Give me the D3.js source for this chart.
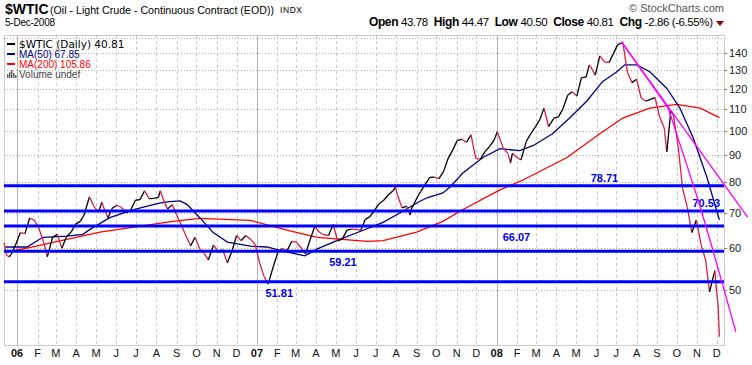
<!DOCTYPE html>
<html>
<head>
<meta charset="utf-8">
<script src="https://cdn.jsdelivr.net/npm/d3@7"></script>
<style>
body { margin: 0; background: #fff; }
svg { display: block; }
</style>
</head>
<body>
<div id="chart"></div>
<script>
var width = 752;
var height = 365;

// weekly-ish closes
var prices = [
  ["2005-12-12",61.4],["2005-12-16",58.1],["2005-12-20",57.8],["2005-12-23",58.4],["2005-12-30",61.0],
  ["2006-01-06",64.2],["2006-01-13",63.9],["2006-01-20",68.4],["2006-01-27",67.8],["2006-02-03",65.4],
  ["2006-02-10",61.8],["2006-02-16",57.8],["2006-02-24",62.9],["2006-03-03",63.7],["2006-03-10",60.0],
  ["2006-03-17",63.0],["2006-03-24",64.3],["2006-03-31",66.6],["2006-04-07",67.4],["2006-04-13",69.3],
  ["2006-04-21",75.0],["2006-04-28",71.9],["2006-05-05",70.2],["2006-05-10",73.3],["2006-05-12",72.0],
  ["2006-05-19",68.5],["2006-05-26",71.4],["2006-06-02",72.3],["2006-06-09",71.6],["2006-06-16",69.9],
  ["2006-06-23",70.9],["2006-06-30",73.9],["2006-07-07",74.1],["2006-07-14",77.0],["2006-07-21",74.4],
  ["2006-07-28",74.5],["2006-08-04",74.8],["2006-08-07",77.0],["2006-08-11",74.4],["2006-08-18",71.1],
  ["2006-08-25",72.5],["2006-09-01",69.2],["2006-09-08",66.3],["2006-09-15",63.3],["2006-09-22",60.6],
  ["2006-09-29",62.9],["2006-10-06",59.8],["2006-10-13",58.6],["2006-10-19",57.0],["2006-10-27",60.8],
  ["2006-11-03",59.1],["2006-11-10",59.6],["2006-11-17",56.3],["2006-11-24",59.2],["2006-12-01",63.4],
  ["2006-12-08",62.0],["2006-12-15",63.4],["2006-12-22",62.4],["2006-12-29",61.1],
  ["2007-01-05",56.3],["2007-01-12",53.0],["2007-01-18",51.3],["2007-01-26",55.4],["2007-02-02",59.0],
  ["2007-02-09",59.9],["2007-02-16",59.4],["2007-02-23",61.8],["2007-03-02",61.6],["2007-03-09",60.1],
  ["2007-03-16",58.5],["2007-03-23",62.3],["2007-03-30",65.9],["2007-04-06",64.3],["2007-04-13",63.6],
  ["2007-04-20",63.4],["2007-04-27",66.5],["2007-05-04",61.9],["2007-05-11",62.4],["2007-05-18",64.9],
  ["2007-05-25",65.2],["2007-06-01",65.1],["2007-06-08",64.8],["2007-06-15",68.0],["2007-06-22",68.8],
  ["2007-06-29",70.7],["2007-07-06",72.8],["2007-07-13",73.9],["2007-07-20",75.6],["2007-07-27",77.0],
  ["2007-07-31",78.2],["2007-08-03",75.5],["2007-08-10",71.5],["2007-08-17",72.0],["2007-08-22",69.3],
  ["2007-08-24",71.1],["2007-08-31",74.0],["2007-09-07",76.7],["2007-09-14",79.1],["2007-09-21",81.6],
  ["2007-09-28",81.7],["2007-10-05",81.2],["2007-10-12",83.7],["2007-10-19",88.6],["2007-10-26",91.9],
  ["2007-11-02",95.9],["2007-11-09",96.3],["2007-11-16",95.1],["2007-11-23",98.2],["2007-11-30",88.7],
  ["2007-12-07",88.3],["2007-12-14",91.3],["2007-12-21",93.3],["2007-12-28",96.0],
  ["2008-01-02",99.6],["2008-01-04",97.9],["2008-01-11",92.7],["2008-01-18",90.6],["2008-01-22",87.0],
  ["2008-01-25",90.7],["2008-02-01",89.0],["2008-02-07",88.1],["2008-02-15",95.5],["2008-02-22",98.8],
  ["2008-02-29",101.8],["2008-03-07",105.2],["2008-03-13",110.3],["2008-03-20",101.8],["2008-03-28",105.6],
  ["2008-04-04",106.2],["2008-04-11",110.1],["2008-04-18",116.7],["2008-04-25",118.5],["2008-05-02",116.3],
  ["2008-05-09",126.0],["2008-05-16",126.3],["2008-05-21",133.2],["2008-05-23",132.2],["2008-05-30",127.4],
  ["2008-06-06",138.5],["2008-06-13",134.9],["2008-06-20",134.6],["2008-06-27",140.2],["2008-07-03",145.3],
  ["2008-07-11",147.0],["2008-07-18",128.9],["2008-07-25",123.3],["2008-08-01",125.1],["2008-08-08",115.2],
  ["2008-08-15",113.8],["2008-08-22",114.6],["2008-08-29",115.5],["2008-09-05",106.2],["2008-09-12",101.2],
  ["2008-09-16",91.2],["2008-09-22",109.0],["2008-09-26",106.9],["2008-10-03",93.9],["2008-10-10",77.7],
  ["2008-10-17",71.9],["2008-10-24",64.2],["2008-10-31",67.8],["2008-11-07",61.0],["2008-11-14",57.0],
  ["2008-11-20",49.6],["2008-11-28",54.4],["2008-12-01",49.3],["2008-12-03",46.8],["2008-12-04",43.7],
  ["2008-12-05",40.8]
];

var ma50 = [
  ["2005-12-14",60.3],["2006-01-16",60.3],["2006-02-09",62.9],["2006-03-18",63.2],["2006-04-11",63.7],
  ["2006-04-22",65.1],["2006-05-22",68.5],["2006-06-26",70.9],["2006-08-02",72.8],["2006-08-17",73.4],
  ["2006-09-06",73.7],["2006-09-17",72.5],["2006-10-06",68.5],["2006-10-26",64.3],["2006-11-17",61.6],
  ["2006-12-22",60.5],["2007-01-16",60.3],["2007-02-10",59.2],["2007-03-15",58.0],["2007-04-02",59.75],
  ["2007-05-08",62.4],["2007-06-07",64.5],["2007-07-12",67.1],["2007-08-07",70.0],["2007-09-02",73.1],
  ["2007-09-17",74.7],["2007-10-11",76.3],["2007-10-22",78.3],["2007-11-10",83.1],["2007-12-11",89.0],
  ["2008-01-06",92.5],["2008-02-05",91.7],["2008-02-25",93.7],["2008-03-26",98.7],["2008-04-21",105.7],
  ["2008-05-17",113.7],["2008-06-10",123.8],["2008-07-02",129.3],["2008-07-14",133.2],["2008-08-01",133.2],
  ["2008-08-21",129.3],["2008-09-16",120.2],["2008-10-06",110.3],["2008-10-26",97.0],["2008-11-16",81.7],
  ["2008-12-05",67.85]
];

var ma200 = [
  ["2005-12-14",59.0],["2006-01-16",60.0],["2006-05-07",64.3],["2006-08-26",67.4],["2006-10-06",68.3],
  ["2006-12-22",67.7],["2007-02-25",64.5],["2007-04-03",62.9],["2007-06-18",61.8],["2007-07-12",62.0],
  ["2007-09-01",64.3],["2007-10-11",67.4],["2007-11-10",70.9],["2008-01-06",77.3],["2008-02-10",80.7],
  ["2008-04-17",89.0],["2008-06-06",98.7],["2008-07-11",105.7],["2008-08-21",110.3],["2008-10-01",112.2],
  ["2008-11-06",110.3],["2008-12-05",105.86]
];

var levels = [78.71, 70.53, 66.07, 59.21, 51.81];
var levelLabelDates = ["2008-06-13", "2008-11-15", "2008-01-31", "2007-05-12", "2007-02-04"];
var levelLabelAbove = [true, true, false, false, false];

var trendLines = [
  [["2008-07-09",147.2],["2009-01-17",68.7]],
  [["2008-07-09",147.2],["2008-09-18",110.4]],
  [["2008-09-18",110.4],["2008-10-09",91.9],["2008-11-05",72.4],["2008-11-25",59.5],["2008-12-13",49.6],["2008-12-30",41.7]]
];

var priceTicks = [50, 60, 70, 80, 90, 100, 110, 120, 130, 140];
var monthLetters = ["J","F","M","A","M","J","J","A","S","O","N","D"];
var quote = [["Open","43.78"],["High","44.47"],["Low","40.50"],["Close","40.81"],["Chg","-2.86 (-6.55%)"]];
var legendItems = [["$WTIC (Daily) 40.81","#000000"],["MA(50) 67.85","#000080"],["MA(200) 105.86","#ff0000"],["Volume undef","#444444"]];

var parse = d3.timeParse("%Y-%m-%d");
var plotLeft = 4, plotRight = 724, plotTop = 35, plotBottom = 345;

var svg = d3.select("#chart")
  .append("svg")
  .attr("width", width)
  .attr("height", height)
  .style("font-family", "Arial, 'Liberation Sans', sans-serif");

var x = d3.scaleTime()
  .domain([parse("2005-12-12"), parse("2008-12-12")])
  .range([plotLeft, plotRight]);

var y = d3.scaleLog()
  .domain([39.36, 151.7])
  .range([plotBottom, plotTop]);

// grid
var months = d3.timeMonth.range(parse("2006-01-01"), parse("2008-12-02"));

svg.append("g")
  .selectAll("line")
  .data(months)
  .enter()
  .append("line")
  .attr("x1", function(d){ return Math.round(x(d)) + 0.5; })
  .attr("x2", function(d){ return Math.round(x(d)) + 0.5; })
  .attr("y1", plotTop)
  .attr("y2", plotBottom)
  .attr("stroke", function(d){ return d.getMonth() == 0 ? "#b4b4b4" : "#c8c8c8"; })
  .attr("stroke-dasharray", function(d){ return d.getMonth() == 0 ? null : "3,3"; });

svg.append("g")
  .selectAll("line")
  .data(priceTicks.concat([150]))
  .enter()
  .append("line")
  .attr("x1", plotLeft)
  .attr("x2", plotRight)
  .attr("y1", function(d){ return Math.round(y(d)) + 0.5; })
  .attr("y2", function(d){ return Math.round(y(d)) + 0.5; })
  .attr("stroke", "#b0b0b0")
  .attr("stroke-dasharray", "1,2");

svg.append("rect")
  .attr("x", plotLeft + 0.5)
  .attr("y", plotTop + 0.5)
  .attr("width", plotRight - plotLeft)
  .attr("height", plotBottom - plotTop)
  .attr("fill", "none")
  .attr("stroke", "#999")
  .attr("stroke-dasharray", "1,1");

// right axis
var axis = svg.append("g");
axis.selectAll("line")
  .data(priceTicks)
  .enter()
  .append("line")
  .attr("x1", plotRight)
  .attr("x2", plotRight + 3)
  .attr("y1", function(d){ return Math.round(y(d)) + 0.5; })
  .attr("y2", function(d){ return Math.round(y(d)) + 0.5; })
  .attr("stroke", "#777");
axis.selectAll("text")
  .data(priceTicks)
  .enter()
  .append("text")
  .attr("x", 729)
  .attr("y", function(d){ return y(d) + 4; })
  .style("font-size", "11px")
  .attr("fill", "#222")
  .text(function(d){ return d; });

// month labels
svg.append("g")
  .selectAll("text")
  .data(months)
  .enter()
  .append("text")
  .attr("x", function(d){ return x(d); })
  .attr("y", 357)
  .attr("text-anchor", "middle")
  .style("font-size", "11px")
  .style("font-weight", function(d){ return d.getMonth() == 0 ? "bold" : "normal"; })
  .attr("fill", "#111")
  .text(function(d){ return d.getMonth() == 0 ? d3.timeFormat("%y")(d) : monthLetters[d.getMonth()]; });

// moving averages
var line = d3.line()
  .x(function(d){ return x(parse(d[0])); })
  .y(function(d){ return y(d[1]); });

svg.append("path")
  .attr("d", line(ma200))
  .attr("fill", "none")
  .attr("stroke", "#ff0000")
  .attr("stroke-width", 1.3);

svg.append("path")
  .attr("d", line(ma50))
  .attr("fill", "none")
  .attr("stroke", "#000080")
  .attr("stroke-width", 1.3);

// price, black when rising, red when falling
svg.append("g")
  .selectAll("line")
  .data(d3.pairs(prices))
  .enter()
  .append("line")
  .attr("x1", function(d){ return x(parse(d[0][0])); })
  .attr("y1", function(d){ return y(d[0][1]); })
  .attr("x2", function(d){ return x(parse(d[1][0])); })
  .attr("y2", function(d){ return y(d[1][1]); })
  .attr("stroke", function(d){ return d[1][1] >= d[0][1] ? "#000" : "#d81e48"; })
  .attr("stroke-width", 1.3);

// horizontal levels
svg.append("g")
  .selectAll("line")
  .data(levels)
  .enter()
  .append("line")
  .attr("x1", plotLeft)
  .attr("x2", plotRight)
  .attr("y1", function(d){ return y(d); })
  .attr("y2", function(d){ return y(d); })
  .attr("stroke", "#0000ff")
  .attr("stroke-width", 3);

svg.append("g")
  .selectAll("text")
  .data(levels)
  .enter()
  .append("text")
  .attr("x", function(d, i){ return x(parse(levelLabelDates[i])); })
  .attr("y", function(d, i){ return y(d) + (levelLabelAbove[i] ? -4 : 15); })
  .attr("text-anchor", "middle")
  .style("font-size", "11px")
  .style("font-weight", "bold")
  .attr("fill", "#0000ee")
  .text(function(d){ return d3.format(".2f")(d); });

// trend lines
svg.append("g")
  .selectAll("path")
  .data(trendLines)
  .enter()
  .append("path")
  .attr("d", line)
  .attr("fill", "none")
  .attr("stroke", "#ff00ff")
  .attr("stroke-width", 1.3);

// legend
var legend = svg.append("g");
legendItems.forEach(function(d, i){
  var cy = 44 + i * 10;
  if (i < 3) {
    legend.append("line")
      .attr("x1", 7).attr("x2", 15)
      .attr("y1", cy).attr("y2", cy)
      .attr("stroke", d[1])
      .attr("stroke-width", 2);
  } else {
    [[7,4],[9,6],[11,8],[13,5],[15,3]].forEach(function(b){
      legend.append("rect")
        .attr("x", b[0]).attr("y", cy + 4 - b[1])
        .attr("width", 1.5).attr("height", b[1])
        .attr("fill", "#666");
    });
  }
  legend.append("text")
    .attr("x", 19)
    .attr("y", cy + 3.5)
    .style("font-family", i == 0 ? "'DejaVu Sans', Verdana, sans-serif" : null)
    .style("font-size", i == 0 ? "10.5px" : "10px")
    .attr("fill", d[1])
    .text(d[0]);
});

// header
svg.append("text")
  .attr("x", 5)
  .attr("y", 14)
  .style("font-size", "14px")
  .style("font-weight", "bold")
  .text("$WTIC");

svg.append("text")
  .attr("x", 50)
  .attr("y", 14)
  .style("font-size", "11px")
  .attr("textLength", 224)
  .attr("lengthAdjust", "spacingAndGlyphs")
  .text("(Oil - Light Crude - Continuous Contract (EOD))");

svg.append("text")
  .attr("x", 280)
  .attr("y", 13)
  .style("font-size", "8.5px")
  .attr("textLength", 22)
  .text("INDX");

svg.append("text")
  .attr("x", 5)
  .attr("y", 26)
  .style("font-size", "10px")
  .attr("textLength", 50)
  .text("5-Dec-2008");

svg.append("text")
  .attr("x", 724)
  .attr("y", 12)
  .attr("text-anchor", "end")
  .style("font-size", "11px")
  .attr("fill", "#555")
  .text("\u00a9 StockCharts.com");

var q = svg.append("text")
  .attr("x", 369)
  .attr("y", 26)
  .attr("textLength", 344)
  .style("font-size", "12px");
quote.forEach(function(d, i){
  q.append("tspan").style("font-weight", "bold").attr("dx", i == 0 ? 0 : 6).text(d[0]);
  q.append("tspan").style("font-size", "11.5px").attr("dx", 3).text(d[1]);
});

svg.append("path")
  .attr("d", "M716,21 L724,21 L720,26 Z")
  .attr("fill", "#8b0000");
</script>
</body>
</html>
